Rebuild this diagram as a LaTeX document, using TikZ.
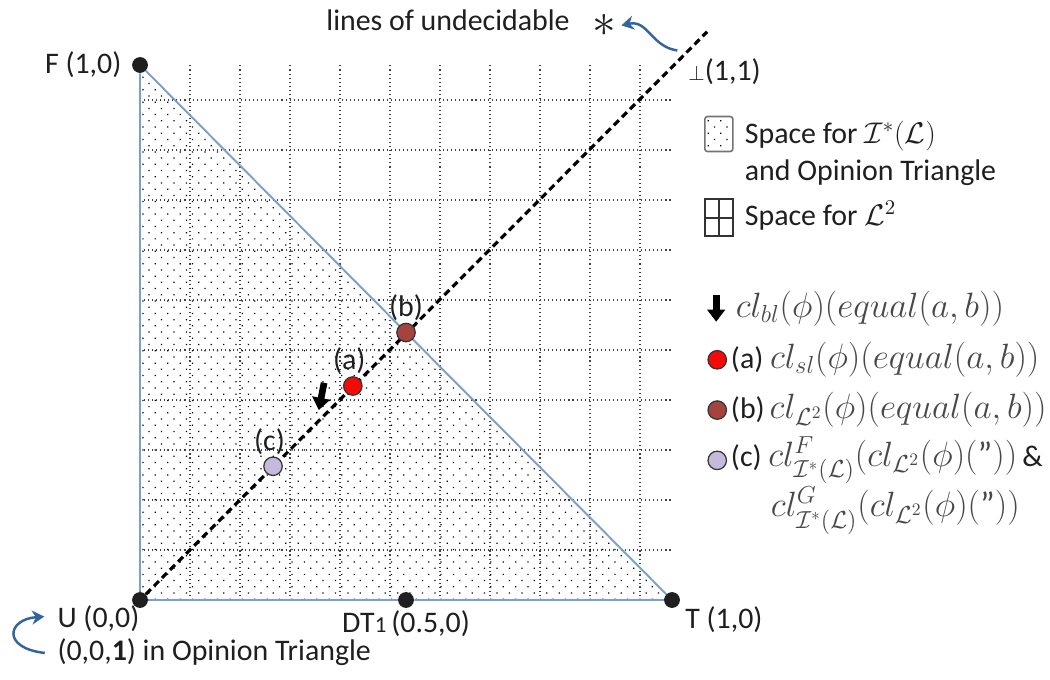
\RequirePackage{fix-cm}
\documentclass[tikz,border=0pt]{standalone}
\usepackage{amsmath,amssymb}
\usepackage{fontspec}
\setmainfont{Carlito}
\usepackage{tikz}
\usetikzlibrary{arrows.meta,patterns.meta,positioning}
\usepackage{xcolor}
\definecolor{edgeblue}{RGB}{122,160,208}
\definecolor{curveblue}{RGB}{52,100,160}
\definecolor{ptred}{RGB}{245,10,10}
\definecolor{ptbrown}{RGB}{165,68,62}
\definecolor{ptlilac}{RGB}{196,186,220}
\definecolor{mathgray}{RGB}{72,72,72}
\newcommand{\bigf}[1]{{\fontsize{20}{24}\selectfont\color{mathgray}$#1$}}

\begin{document}
\begin{tikzpicture}[x=1.064cm,y=1.07cm,
        every node/.style={font=\fontsize{17}{20}\selectfont,text=black!88,inner sep=1pt},
        vertex/.style={circle,fill=black!88,inner sep=0pt,minimum size=9pt},
        spot/.style={circle,draw=black!80,line width=0.7pt,inner sep=0pt,minimum size=10.5pt},
        gridline/.style={black!75,line width=0.6pt,dash pattern=on 0.6pt off 1.7pt},
        side/.style={edgeblue,line width=1.1pt},
        bent/.style={curveblue,line width=1.4pt,-{Stealth[length=7pt,width=8pt]}},
        fat/.style={black,line width=3.8pt,-{Triangle[length=7pt,width=10pt]}},
        dotfill/.style={pattern={Dots[distance=5pt,angle=45,radius=0.5pt]}}]
    \useasboundingbox (-2.632,-1.495) rectangle (17.105,11.215);
    \fill [dotfill] (0,0) -- (0,10) -- (10,0) -- cycle;
    \draw [gridline] (0,0) grid (10,10);
    \node [vertex] (U) at (0,0) {};
    \node [vertex] (F) at (0,10) {};
    \node [vertex] (T) at (10,0) {};
    \node [vertex] (D) at (5,0) {};
    \coordinate (end) at (10.66,10.62);
    \draw [side] (U) -- (F) -- (T) -- (D) -- (U);
    \draw [black,line width=1.8pt,dash pattern=on 4pt off 2.5pt] (U) -- (end);
    \node [spot,fill=ptlilac] (C) at (2.5,2.5) {};
    \node [spot,fill=ptred] (A) at (4,4) {};
    \node [spot,fill=ptbrown] (B) at (5,5) {};
    \node [above=0pt of B] {(b)};
    \node [above=0pt of A,xshift=-2pt] {(a)};
    \node [above=0pt of C,xshift=-2pt] {(c)};
    \draw [fat] (3.46,4.06) -- (3.36,3.55);
    \node [left=4.7pt of F] {F (1,0)};
    \node [below=0pt of D] {DT{\fontsize{13}{13}\selectfont 1}\,(0.5,0)};
    \node (tlab) at (10.21,-0.37) [anchor=west] {T (1,0)};
    \node (ulab) at (-1.59,-0.67) [anchor=west,align=left,font=\fontsize{17}{18.5}\selectfont] {U (0,0)\\(0,0,\textbf{1}) in Opinion Triangle};
    \coordinate (loopa) at (-1.79,-0.99);
    \coordinate (loopb) at (-1.80,-0.31);
    \draw [bent] (loopa) .. controls (-2.6,-0.9) and (-2.5,-0.36) .. (loopb);
    \node (title) at (5.79,10.84) {lines of undecidable};
    \node (star) at (8.72,10.74) [inner sep=0pt] {\fontsize{27}{27}\selectfont$\ast$};
    \coordinate (hook) at (10.1,10.27);
    \draw [bent] (hook) .. controls (9.6,10.35) and (9.55,10.85) .. ([xshift=3pt]star.east);
    \node (top) at (10.27,9.87) [anchor=west] {{\fontsize{12}{12}\selectfont$\perp$}(1,1)};
    \node [draw=black!55,line width=0.9pt,rounded corners=1.5pt,dotfill,minimum width=0.56cm,minimum height=0.7cm,inner sep=0pt] (key1) at (10.88,8.71) {};
    \node (txt1) at (11.33,8.35) [anchor=west,align=left,font=\fontsize{17}{21}\selectfont] {Space for $\mathcal{I}^*(\mathcal{L})$\\and Opinion Triangle};
    \draw [black!80,line width=1pt] (10.62,6.80) rectangle (11.14,7.49) (10.88,6.80) -- (10.88,7.49) (10.62,7.145) -- (11.14,7.145);
    \node (txt2) at (11.33,7.18) [anchor=west] {Space for $\mathcal{L}^2$};
    \draw [fat] (10.83,5.7) -- (10.83,5.2);
    \node (kbl) at (11.16,5.45) [anchor=west] {\bigf{cl_{bl}(\phi)(equal(a,b))}};
    \node [spot,fill=ptred] (ka) at (10.85,4.49) {};
    \node [right=1pt of ka] {(a) \bigf{cl_{sl}(\phi)(equal(a,b))}};
    \node [spot,fill=ptbrown] (kb) at (10.85,3.55) {};
    \node [right=1pt of kb] {(b)\,\bigf{cl_{\mathcal{L}^2}(\phi)(equal(a,b))}};
    \node [spot,fill=ptlilac] (kc) at (10.85,2.61) {};
    \node [right=1pt of kc] {(c) \bigf{cl^{F}_{\mathcal{I}^*(\mathcal{L})}(cl_{\mathcal{L}^2}(\phi)(\text{''}))}\,\&};
    \node (kc2) at (11.82,1.67) [anchor=west] {\bigf{cl^{G}_{\mathcal{I}^*(\mathcal{L})}(cl_{\mathcal{L}^2}(\phi)(\text{''}))}};
\end{tikzpicture}
\end{document}
